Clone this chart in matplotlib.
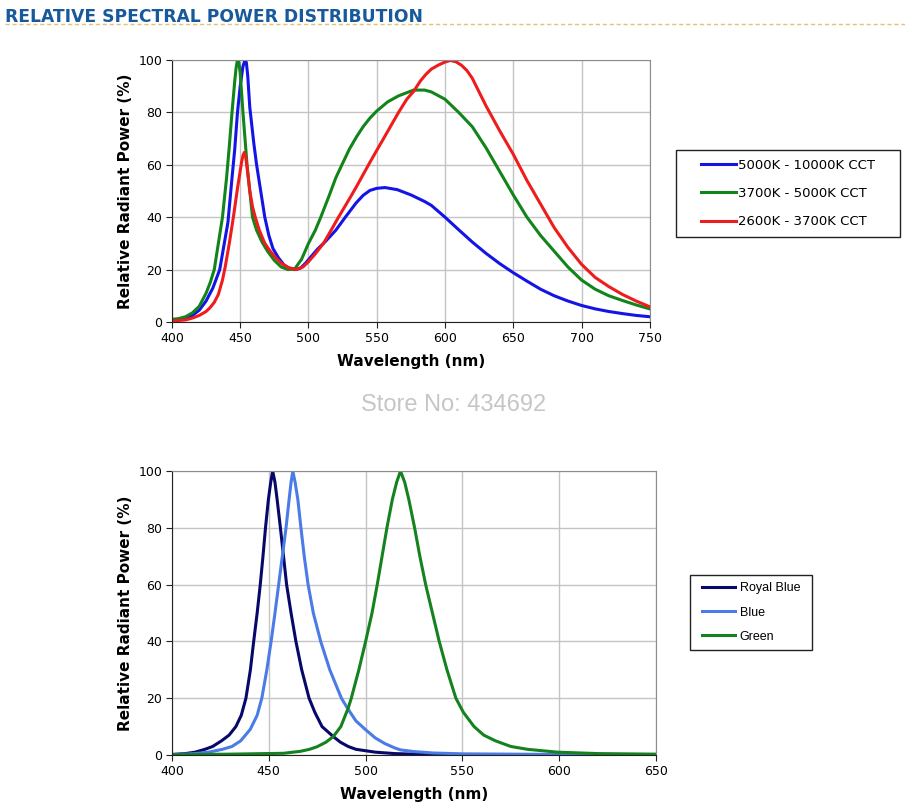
import numpy as np
import matplotlib.pyplot as plt
from matplotlib.lines import Line2D
from matplotlib.patches import Rectangle

# ---------- top chart: white LED spectra ----------
wl_cool = [400, 405, 410, 415, 420, 425, 430, 435, 438, 441, 444, 446, 448, 450, 452, 453.5,
           454.5, 455.5, 457, 460, 462, 465, 468, 471, 474, 478, 482, 486, 490, 494, 498, 502,
           507, 512, 520, 527, 535, 540, 545, 550, 556, 565, 575, 585, 590, 600, 610, 620, 630,
           640, 650, 660, 670, 680, 690, 700, 710, 720, 730, 740, 750]
p_cool = [0.8, 1.0, 1.5, 2.5, 4.5, 8, 13, 20, 29, 38, 55, 66, 80, 90, 97.5, 100,
          99, 94, 82, 68, 60, 50, 40, 33, 28, 24.5, 21.8, 20.5, 20, 20.5, 22.5, 25,
          28, 30.5, 35, 40, 45.5, 48.3, 50.2, 51, 51.3, 50.5, 48.5, 46, 44.5, 40, 35.2, 30.5, 26.2,
          22.3, 18.8, 15.6, 12.5, 10, 8, 6.3, 5, 4, 3.2, 2.5, 2]

wl_neutral = [400, 405, 410, 415, 420, 425, 428, 431, 434, 437, 440, 442, 444, 446, 447, 448,
              449, 450, 452, 455, 459, 462, 466, 470, 475, 480, 485, 490, 495, 500, 505, 509,
              515, 520, 524.5, 530, 535, 540, 545, 550, 558, 566, 577, 585, 590, 600, 610, 620,
              630, 640, 650, 660, 670, 680, 690, 700, 710, 720, 730, 740, 750]
p_neutral = [1, 1.3, 2, 3.5, 6, 11, 15, 20, 30, 40, 55, 67, 80, 92, 97, 100,
             99, 95, 80, 60, 40, 35, 30.5, 27, 23.5, 21, 20, 20.3, 24, 30, 35, 40,
             48, 55, 60, 66, 70.5, 74.5, 77.8, 80.5, 84, 86.3, 88.5, 88.5, 87.8, 85, 80, 74.5,
             66.5, 57.5, 48.5, 40, 33, 27, 21, 16, 12.5, 10, 8.2, 6.5, 5]

wl_warm = [400, 410, 415, 420, 425, 428, 431, 434, 437, 439, 442, 445, 448, 451, 452, 453,
           454, 455, 457, 459, 461, 464, 468, 472, 476, 480, 485, 491, 496, 500, 505, 511,
           516, 522, 530, 535, 544, 550, 555, 566, 572, 577, 582, 586, 590, 595, 600, 604,
           608, 612, 616, 620, 630, 640, 650, 660, 670, 680, 690, 700, 710, 720, 730, 740, 750]
p_warm = [0.3, 0.8, 1.5, 2.5, 4, 5.5, 7.5, 10.5, 16, 21, 30, 40, 51, 61, 63.5, 64.7,
          63, 59, 50, 44, 40, 35, 30, 27, 24.5, 22.5, 20.8, 20, 21, 23, 26, 30,
          34.5, 40, 47, 51.5, 60, 65.5, 70, 80, 85, 88, 92, 94.5, 96.5, 98, 99.2, 99.8,
          99.3, 98, 96, 93, 82.5, 73, 64, 54, 45, 36, 28.5, 22, 17, 13.5, 10.5, 8, 5.8]

top_labels = ["5000K - 10000K CCT", "3700K - 5000K CCT", "2600K - 3700K CCT"]
top_colors = ["#1414e6", "#11841a", "#ee1c1c"]

# ---------- bottom chart: coloured LED spectra ----------
wl_royal = [400, 407, 412, 417, 421, 425.6, 429.5, 433, 435.8, 438.2, 440.5, 442.2, 444,
            445.6, 447, 448.3, 449.8, 451, 452, 453.2, 454.3, 456, 457.6, 459.2, 461.5, 464,
            467, 470.8, 473.8, 477.5, 483.3, 487, 491, 495, 505, 515, 530, 545, 570, 650]
p_royal = [0.2, 0.5, 1, 2, 3, 5, 7, 10, 14, 20, 30, 40, 50,
           60, 70, 80, 90, 96, 100, 96, 90, 80, 70, 60, 50, 40,
           30, 20, 15, 10, 6.5, 4.5, 3, 2, 1, 0.5, 0.2, 0.1, 0, 0]

wl_blue = [400, 412, 419, 426, 431, 435.5, 440.4, 444, 446.4, 449, 451.2, 453.2, 455.1,
           457, 458.9, 460.5, 461.5, 462.4, 463.6, 465, 466.6, 468.3, 470.3, 473, 476.8,
           481.5, 487.5, 490.6, 495, 500, 505, 510, 515, 518, 525, 535, 550, 600, 650]
p_blue = [0.1, 0.5, 1, 2, 3, 5, 9, 14, 20, 30, 40, 50, 60,
          70, 80, 90, 96, 100, 96, 90, 80, 70, 60, 50, 40,
          30, 20, 16.5, 12, 8.9, 6, 4, 2.5, 1.8, 1.2, 0.7, 0.4, 0.2, 0.1]

wl_green = [400, 430, 457.6, 466.3, 471, 474.9, 479.5, 483.3, 487.2, 491, 492.6, 496.5,
            500, 503.3, 506, 508.5, 511, 513.8, 516, 518, 520.2, 522.3, 525.3, 528, 531,
            534.5, 538, 542, 546.6, 550.5, 556, 561, 567, 575, 583.6, 599, 620, 650]
p_green = [0.1, 0.3, 0.6, 1.3, 2, 2.9, 4.5, 6.5, 10, 16.5, 20, 30,
           40, 50, 60, 70, 80, 90, 96, 100, 96, 90, 80, 70, 60,
           50, 40, 30, 20, 15, 10, 7, 5, 3, 2, 1, 0.5, 0.3]

bottom_labels = ["Royal Blue", "Blue", "Green"]
bottom_colors = ["#08086b", "#4a7be6", "#14821e"]

TITLE = "RELATIVE SPECTRAL POWER DISTRIBUTION"
WATERMARK = "Store No: 434692"


def style_axes(ax, xmax):
    ax.set_xlim(400, xmax)
    ax.set_ylim(0, 100)
    ax.set_xticks(np.arange(400, xmax + 1, 50))
    ax.set_yticks(np.arange(0, 101, 20))
    ax.grid(True, color="#c4c4c4", lw=1)
    ax.set_axisbelow(True)
    for s in ("top", "right"):
        ax.spines[s].set_color("#8c8c8c")
    for s in ("left", "bottom"):
        ax.spines[s].set_color("#222222")
    ax.tick_params(labelsize=9, length=4, color="#222222", pad=3)
    ax.set_xlabel("Wavelength (nm)", fontsize=11, fontweight="bold", labelpad=7)
    ax.set_ylabel("Relative Radiant Power (%)", fontsize=11, fontweight="bold", labelpad=4)


def boxed_legend(fig, ax, box, **kw):
    # legend frame drawn as a plain rectangle so its size matches the original
    fig.add_artist(Rectangle(box[:2], box[2], box[3], transform=fig.transFigure,
                             fill=False, edgecolor="#222222", lw=1))
    h, l = ax.get_legend_handles_labels()
    fig.legend(h, l, loc="center", bbox_to_anchor=box, frameon=False, **kw)


fig = plt.figure(figsize=(9.05, 8.1), dpi=100)

# header
fig.text(0.006, 0.990, TITLE, fontsize=12.3, fontweight="bold", color="#17599a",
         ha="left", va="top")
fig.add_artist(Line2D([0.006, 1.0], [0.970, 0.970], transform=fig.transFigure,
                      color="#e3c272", lw=1, ls=(0, (3, 2))))

# top chart
ax1 = fig.add_axes([0.190, 0.6025, 0.528, 0.3235])
for wl, p, c, lab in zip([wl_cool, wl_neutral, wl_warm], [p_cool, p_neutral, p_warm],
                         top_colors, top_labels):
    ax1.plot(wl, p, color=c, lw=2.2, label=lab)
style_axes(ax1, 750)
boxed_legend(fig, ax1, (0.747, 0.7074, 0.2475, 0.1074), fontsize=9.5,
             handlelength=2.65, handletextpad=0.15, labelspacing=1.17)

# watermark
fig.text(0.5015, 0.5, WATERMARK, fontsize=17, color="#c6c6c6",
         family="Liberation Sans", ha="center", va="center")

# bottom chart
ax2 = fig.add_axes([0.190, 0.0679, 0.535, 0.3506])
for wl, p, c, lab in zip([wl_royal, wl_blue, wl_green], [p_royal, p_blue, p_green],
                         bottom_colors, bottom_labels):
    ax2.plot(wl, p, color=c, lw=2.2, label=lab)
style_axes(ax2, 650)
boxed_legend(fig, ax2, (0.7624, 0.1975, 0.1348, 0.0926),
             prop={"family": "Liberation Sans", "size": 9},
             handlelength=2.65, handletextpad=0.4, labelspacing=0.98)

fig.savefig("out.png", dpi=100)
